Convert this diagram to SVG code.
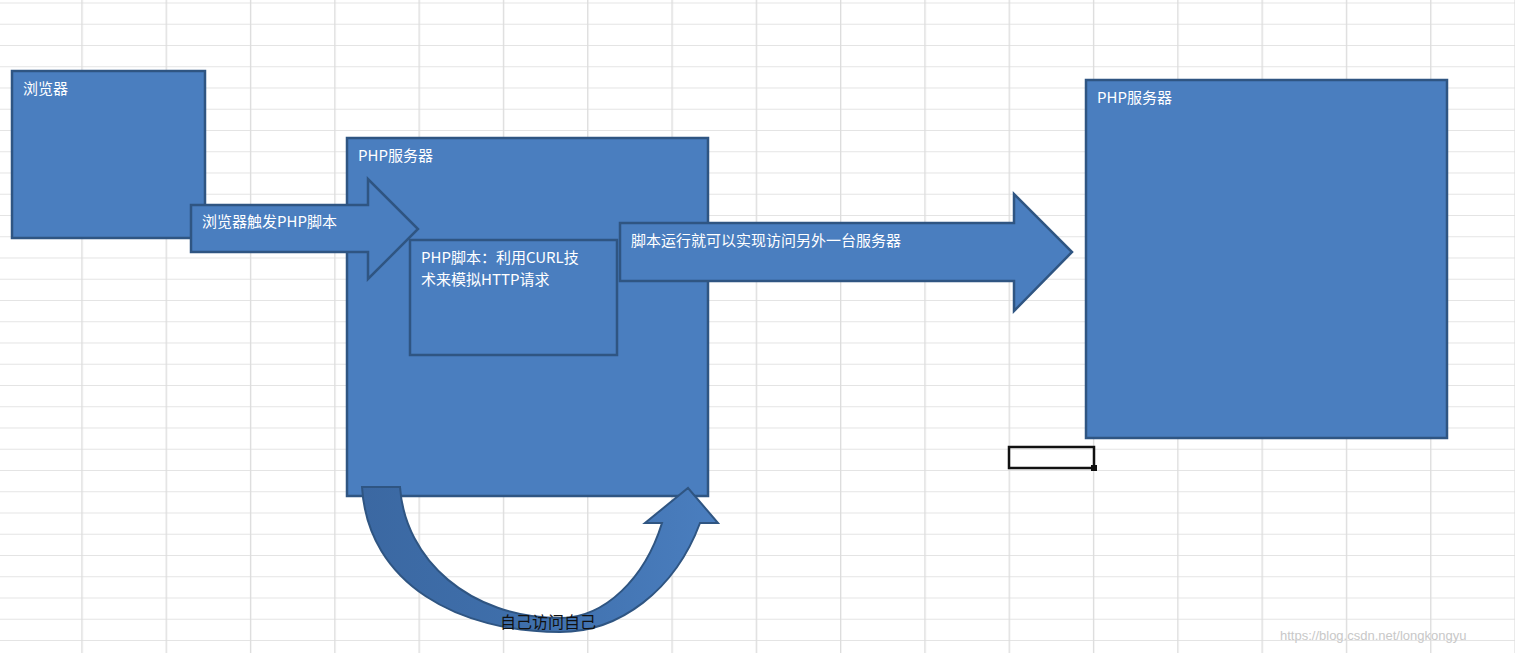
<svg xmlns="http://www.w3.org/2000/svg" width="1515" height="653" viewBox="0 0 1515 653">
<defs>
<pattern id="grid" x="0" y="2.5" width="84.3" height="21.25" patternUnits="userSpaceOnUse">
<path d="M82 0V21.25M0 0H84.3" stroke="#dcdcdc" stroke-width="1.3" fill="none"/>
</pattern>
<linearGradient id="cg" x1="0" x2="1" y1="0" y2="0">
<stop offset="0" stop-color="#3b68a2"/><stop offset="0.45" stop-color="#3f6fab"/><stop offset="1" stop-color="#4a7ebf"/>
</linearGradient>
<style>
.box{fill:#4a7ebf;stroke:#2f5582;stroke-width:2.5}
.t{fill:#fff;font-family:"Noto Sans CJK SC","Liberation Sans",sans-serif;font-size:15px}
</style>
</defs>
<rect width="1515" height="653" fill="#fff"/>
<rect width="1515" height="653" fill="url(#grid)"/>
<g id="browser"><rect class="box" x="12" y="71" width="193" height="167"/><text class="t" x="23" y="94">浏览器</text></g>
<g id="php-server"><rect class="box" x="347" y="138" width="361" height="358"/><text class="t" x="358" y="161">PHP服务器</text></g>
<g id="remote-server"><rect class="box" x="1086" y="80" width="361" height="358"/><text class="t" x="1097" y="103">PHP服务器</text></g>
<g id="connectors">
<g id="arrow1"><path class="box" d="M191 205H368V179L418 229L368 279V252H191Z"/><text class="t" x="202" y="227">浏览器触发PHP脚本</text></g>
<g id="arrow2"><path class="box" d="M620 223H1014V194L1072 252L1014 311V281H620Z"/><text class="t" x="631" y="246">脚本运行就可以实现访问另外一台服务器</text></g>
<g id="self-loop"><path d="M362 487C368 585 460 632 560 632C620 632 675 590 700 523L718 523L688 488L645 523L662 523C645 578 605 618 560 618C470 618 405 560 400 487Z" fill="url(#cg)" stroke="#2f5582" stroke-width="2"/>
<text x="500" y="628" font-family="Noto Sans CJK SC,sans-serif" font-size="16" fill="#111">自己访问自己</text></g>
</g>
<g id="php-script"><rect class="box" x="410" y="240" width="207" height="115"/><text class="t" x="421" y="263">PHP脚本：利用CURL技</text><text class="t" x="421" y="285">术来模拟HTTP请求</text></g>
<g id="cell"><rect x="1009" y="447" width="85" height="21" fill="none" stroke="#111" stroke-width="2.5"/><rect x="1091" y="465" width="6" height="6" fill="#111"/></g>
<text x="1280" y="640" font-family="Liberation Sans,sans-serif" font-size="13" fill="#c8c8c8">https://blog.csdn.net/longkongyu</text>
</svg>
